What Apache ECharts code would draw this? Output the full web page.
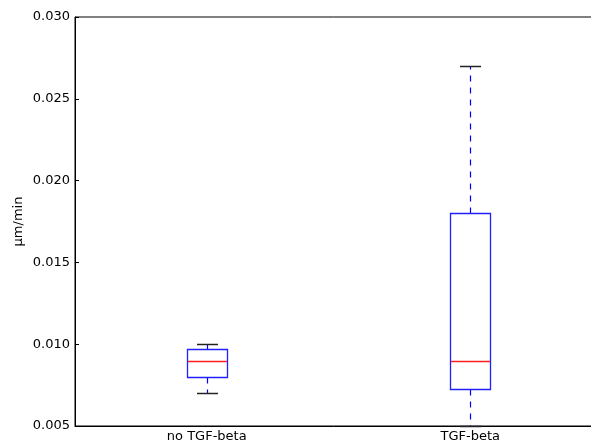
<!DOCTYPE html>
<html>
<head>
<meta charset="utf-8">
<script src="https://cdn.jsdelivr.net/npm/echarts@6/dist/echarts.min.js"></script>
<style>
  html, body { margin: 0; padding: 0; background: #fff; }
  #main { width: 591px; height: 443px; }
</style>
</head>
<body>
<div id="main"></div>
<script>
var categories = ['no TGF-beta', 'TGF-beta'];
var lowWhisker = [0.0070, 0.0050];
var lowQuart = [0.0080, 0.00725];
var medians = [0.0090, 0.0090];
var highQuart = [0.00972, 0.0180];
var highWhisker = [0.0100, 0.0270];

var dom = document.getElementById('main');
var myChart = echarts.init(dom, null, { renderer: 'canvas' });

var boxData = categories.map(function (c, i) {
  return [i, lowWhisker[i], lowQuart[i], medians[i], highQuart[i], highWhisker[i]];
});

function px(v) { return Math.round(v) + 0.5; }

// matplotlib-style box: blue box, red median, dashed blue whiskers, black caps
function renderBox(params, api) {
  var i = api.value(0);
  var pMin = api.coord([i, api.value(1)]);
  var pQ1 = api.coord([i, api.value(2)]);
  var pMed = api.coord([i, api.value(3)]);
  var pQ3 = api.coord([i, api.value(4)]);
  var pMax = api.coord([i, api.value(5)]);
  var cx = px(pMed[0]);
  var half = 20, cap = 10.5;
  return {
    type: 'group',
    children: [
      { type: 'line', shape: { x1: cx, y1: px(pQ3[1]), x2: cx, y2: px(pMax[1]) },
        style: { stroke: '#0000ff', lineWidth: 1.2, lineDash: [6, 6] } },
      { type: 'line', shape: { x1: cx, y1: px(pQ1[1]), x2: cx, y2: px(pMin[1]) },
        style: { stroke: '#0000ff', lineWidth: 1.2, lineDash: [6, 6] } },
      { type: 'line', shape: { x1: cx - cap, y1: px(pMax[1]), x2: cx + cap, y2: px(pMax[1]) },
        style: { stroke: '#222222', lineWidth: 1.5 } },
      { type: 'line', shape: { x1: cx - cap, y1: px(pMin[1]), x2: cx + cap, y2: px(pMin[1]) },
        style: { stroke: '#222222', lineWidth: 1.5 } },
      { type: 'rect', shape: { x: cx - half, y: px(pQ3[1]), width: half * 2, height: Math.round(pQ1[1] - pQ3[1]) },
        style: { stroke: '#2020ff', lineWidth: 1.3, fill: 'none' } },
      { type: 'rect', shape: { x: cx - half + 0.5, y: Math.round(pMed[1]) - 0.2, width: half * 2 - 1, height: 1.4 },
        style: { fill: '#ff2020', stroke: 'none' } }
    ]
  };
}

var option = {
  animation: false,
  backgroundColor: '#ffffff',
  grid: {
    left: 75, top: 17, right: -11, bottom: 17,
    outerBoundsMode: 'none',
    containLabel: false,
    show: true, borderColor: '#000000', borderWidth: 1, backgroundColor: 'transparent'
  },
  xAxis: {
    type: 'category',
    data: categories,
    boundaryGap: true,
    axisLine: { lineStyle: { color: '#000', width: 1 } },
    axisTick: { inside: true, length: 4, alignWithLabel: true, lineStyle: { color: '#000' } },
    axisLabel: { color: '#000', fontSize: 13, fontFamily: 'DejaVu Sans', margin: 4 },
    splitLine: { show: false }
  },
  yAxis: {
    type: 'value',
    min: 0.005,
    max: 0.030,
    interval: 0.005,
    name: 'μm/min',
    nameLocation: 'middle',
    nameGap: 50,
    nameMoveOverlap: false,
    nameTextStyle: { color: '#000', fontSize: 13, fontFamily: 'DejaVu Sans' },
    axisLine: { show: true, lineStyle: { color: '#000', width: 1 } },
    axisTick: { show: true, inside: true, length: 4, lineStyle: { color: '#000' } },
    axisLabel: {
      color: '#000', fontSize: 13, fontFamily: 'DejaVu Sans', margin: 5,
      formatter: function (v) { return v.toFixed(3); }
    },
    splitLine: { show: false }
  },
  series: [
    {
      type: 'custom',
      renderItem: renderBox,
      encode: { x: 0, y: [1, 2, 3, 4, 5] },
      data: boxData,
      clip: false
    }
  ]
};

myChart.setOption(option);
window.addEventListener('resize', myChart.resize);
</script>
</body>
</html>
